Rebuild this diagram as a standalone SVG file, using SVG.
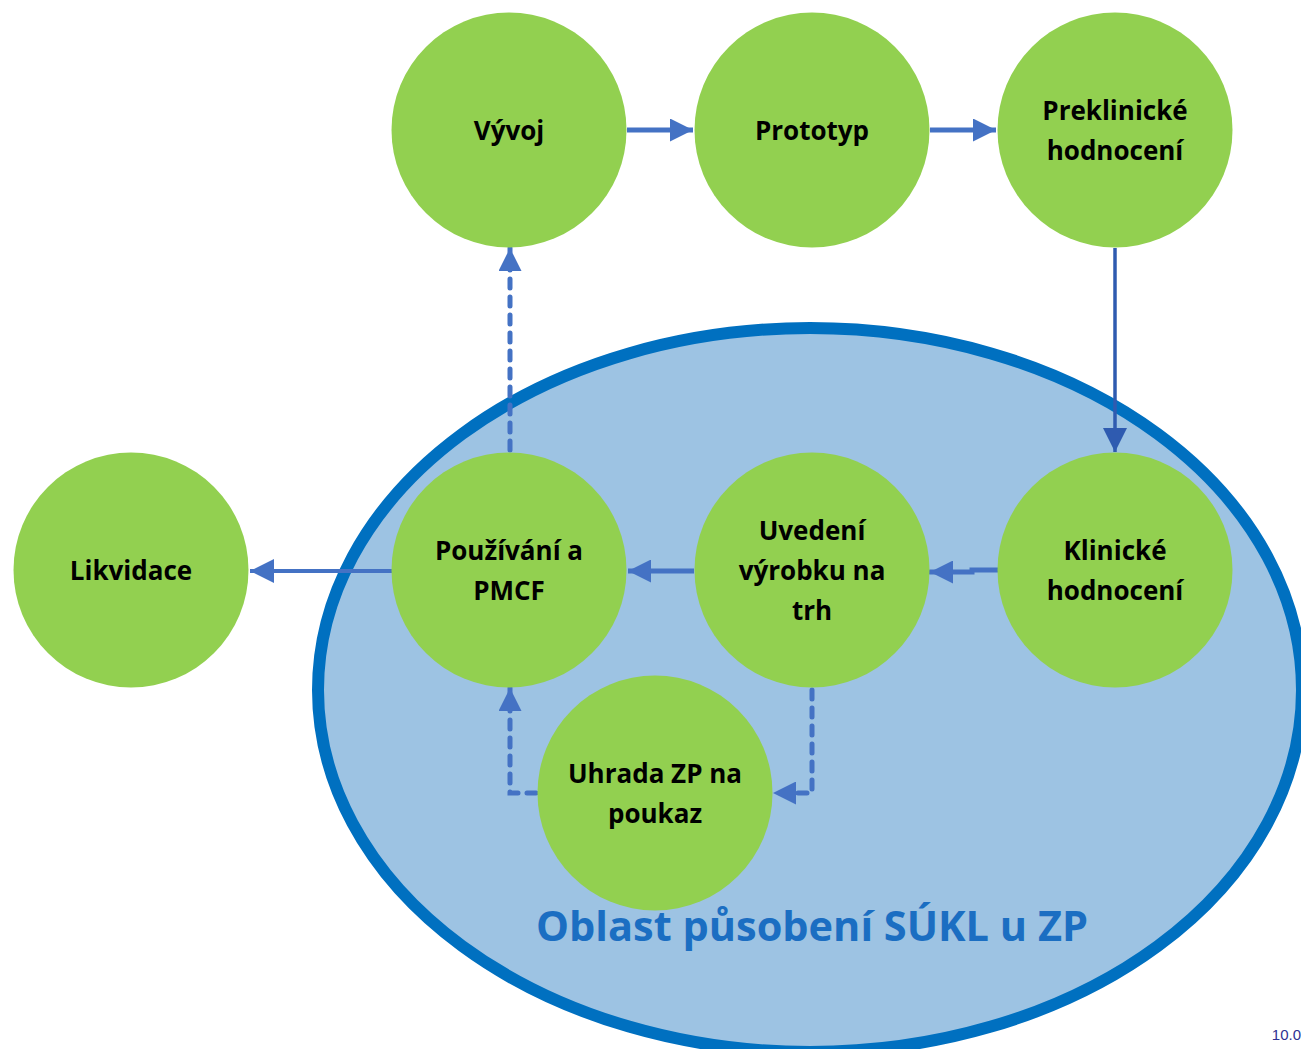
<svg xmlns="http://www.w3.org/2000/svg" width="1301" height="1049" viewBox="0 0 1301 1049">
<style>
.node{fill:#92D050}
.lbl{font-family:"Open Sans","Liberation Sans",sans-serif;font-weight:bold;font-size:26px;fill:#000;text-anchor:middle}
.c{fill:none;stroke:#4472C4;stroke-width:5}
.d{fill:none;stroke:#4472C4;stroke-width:5;stroke-dasharray:9 9;stroke-linecap:round}
</style>
<defs>
<marker id="ah" viewBox="0 0 10 10" refX="10" refY="5" markerWidth="4.6" markerHeight="4.6" markerUnits="strokeWidth" orient="auto">
<path d="M0,0 L10,5 L0,10 z" fill="#4472C4"/>
</marker>
<marker id="ahd" viewBox="0 0 10 10" refX="10" refY="5" markerWidth="7" markerHeight="7" markerUnits="strokeWidth" orient="auto">
<path d="M0,0 L10,5 L0,10 z" fill="#2F5BB0"/>
</marker>
<marker id="ahl" viewBox="0 0 10 10" refX="10" refY="5" markerWidth="6" markerHeight="6" markerUnits="strokeWidth" orient="auto">
<path d="M0,0 L10,5 L0,10 z" fill="#4472C4"/>
</marker>
</defs>
<rect width="1301" height="1049" fill="#fff"/>
<g id="area">
<ellipse cx="810" cy="690" rx="492" ry="362" fill="#9DC3E3" stroke="#0070C0" stroke-width="12"/>
<text x="812" y="941" font-family="'Open Sans','Liberation Sans',sans-serif" font-weight="bold" font-size="41.5" fill="#1B6EC2" text-anchor="middle">Oblast působení SÚKL u ZP</text>
</g>
<g id="connectors">
<line class="c" x1="627" y1="130" x2="693" y2="130" marker-end="url(#ah)"/>
<line class="c" x1="930" y1="130" x2="996" y2="130" marker-end="url(#ah)"/>
<line x1="1115" y1="248" x2="1115" y2="452" stroke="#2F5BB0" stroke-width="3.5" marker-end="url(#ahd)"/>
<polyline class="c" points="998,570 972,570 972,572 930,572" marker-end="url(#ah)" stroke-linecap="round"/>
<line class="c" x1="694" y1="571" x2="628" y2="571" marker-end="url(#ah)"/>
<line x1="392" y1="571" x2="250" y2="571" stroke="#4472C4" stroke-width="4" marker-end="url(#ahl)"/>
<line class="d" x1="510" y1="450" x2="510" y2="248" marker-end="url(#ah)"/>
<polyline class="d" points="812,690 812,793 773,793" marker-end="url(#ah)"/>
<polyline class="d" points="536,793 510,793 510,688" marker-end="url(#ah)"/>
</g>
<g id="vyvoj"><circle class="node" cx="509" cy="130" r="117.5"/><text class="lbl" x="509" y="140">Vývoj</text></g>
<g id="prototyp"><circle class="node" cx="812" cy="130" r="117.5"/><text class="lbl" x="812" y="140">Prototyp</text></g>
<g id="preklinicke"><circle class="node" cx="1115" cy="130" r="117.5"/><text class="lbl" x="1115" y="120">Preklinické</text><text class="lbl" x="1115" y="160">hodnocení</text></g>
<g id="likvidace"><circle class="node" cx="131" cy="570" r="117.5"/><text class="lbl" x="131" y="580">Likvidace</text></g>
<g id="pouzivani"><circle class="node" cx="509" cy="570" r="117.5"/><text class="lbl" x="509" y="560">Používání a</text><text class="lbl" x="509" y="600">PMCF</text></g>
<g id="uvedeni"><circle class="node" cx="812" cy="570" r="117.5"/><text class="lbl" x="812" y="540">Uvedení</text><text class="lbl" x="812" y="580">výrobku na</text><text class="lbl" x="812" y="620">trh</text></g>
<g id="klinicke"><circle class="node" cx="1115" cy="570" r="117.5"/><text class="lbl" x="1115" y="560">Klinické</text><text class="lbl" x="1115" y="600">hodnocení</text></g>
<g id="uhrada"><circle class="node" cx="655" cy="793" r="117.5"/><text class="lbl" x="655" y="783">Uhrada ZP na</text><text class="lbl" x="655" y="823">poukaz</text></g>
<text x="1301" y="1040" font-family="'Liberation Sans',sans-serif" font-size="15" fill="#2E3192" text-anchor="end">10.0</text>
</svg>
